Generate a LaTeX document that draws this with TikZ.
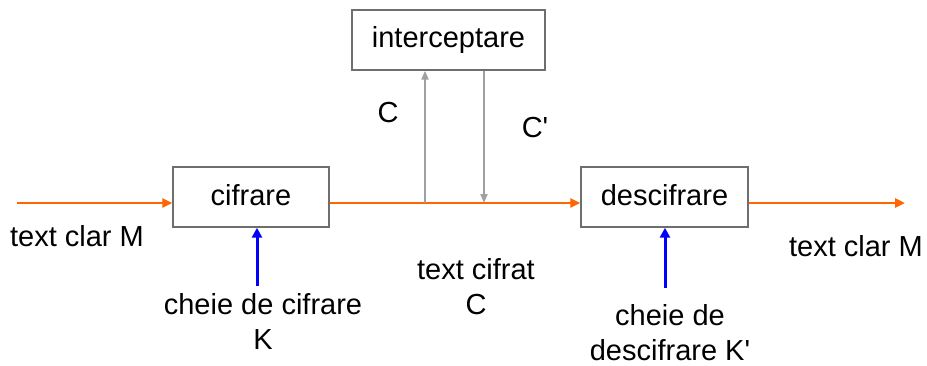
\documentclass[tikz,border=0pt]{standalone}
\usepackage{fontspec}
\setmainfont{Liberation Sans}[Ligatures=TeXOff]
\usetikzlibrary{arrows.meta}
\definecolor{orng}{RGB}{255,102,0}
\definecolor{grayline}{RGB}{160,160,160}
\definecolor{boxline}{RGB}{110,110,110}
\begin{document}
\begin{tikzpicture}[x=1pt,y=-1pt,
  blockbox/.style={draw=boxline,line width=1.4pt,fill=white,minimum width=#1,minimum height=60pt,inner sep=0pt},
  lbl/.style={font=\fontsize{29}{35}\selectfont,align=center,inner sep=0pt},
  oarrow/.style={draw=orng,line width=2.8pt,-{Triangle[length=10pt,width=9pt]}},
  garrow/.style={draw=grayline,line width=2pt,-{Triangle[length=9pt,width=7pt]}},
  barrow/.style={draw=blue,line width=3pt,-{Triangle[length=10pt,width=10pt]}}]
\useasboundingbox (0,0) rectangle (927,365);
\node[blockbox=156pt,lbl,minimum height=60pt] (cif) at (251,197) {\raisebox{4pt}{cifrare}};
\node[blockbox=193pt,lbl,minimum height=60pt] (int) at (448.5,40) {interceptare};
\node[blockbox=167pt,lbl,minimum height=60pt] (desc) at (664.5,197) {\raisebox{4pt}{descifrare}};
\coordinate (in) at (17,203);
\coordinate (out) at (905,203);
\coordinate (cup) at (425,203);
\coordinate (cdown) at (484,203);
\coordinate (kc) at (257,286);
\coordinate (kd) at (665,288);
\draw[oarrow] (in) -- (in -| cif.west);
\draw[oarrow] (in -| cif.east) -- (in -| desc.west);
\draw[oarrow] (in -| desc.east) -- (out);
\draw[garrow] (cup) -- (cup |- int.south);
\draw[garrow] (cdown |- int.south) -- (cdown);
\draw[barrow] (kc) -- (kc |- cif.south);
\draw[barrow] (kd) -- (kd |- desc.south);
\node[lbl] (m1) at (77,236) {text clar M};
\node[lbl] (m2) at (856,246) {text clar M};
\node[lbl] (c1) at (388,113) {C};
\node[lbl] (c2) at (535,128) {C'};
\node[lbl] (ct) at (476,287) {text cifrat\\C};
\node[lbl] (kk) at (263,321) {cheie de cifrare\\K};
\node[lbl] (kk2) at (670,333) {cheie de\\descifrare K'};
\end{tikzpicture}
\end{document}
